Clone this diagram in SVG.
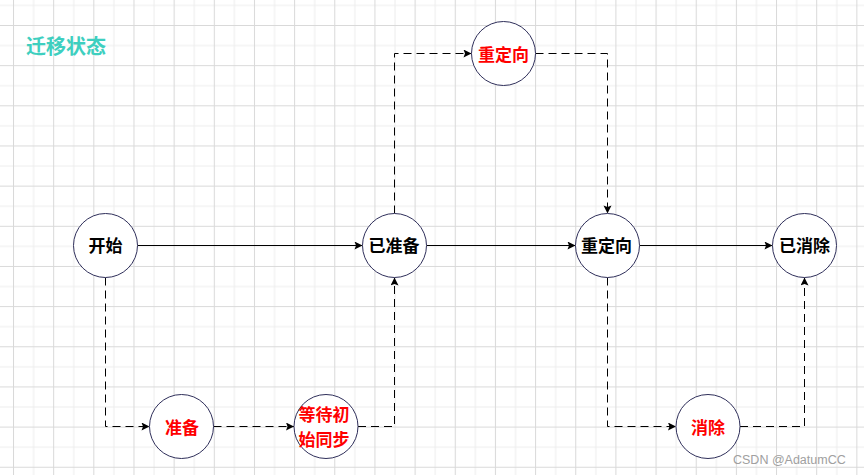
<svg xmlns="http://www.w3.org/2000/svg" width="864" height="475" viewBox="0 0 864 475">
  <style>
    .node circle { fill: #ffffff; stroke: #2f2f5a; stroke-width: 1; }
    .lbl { font-family: "Noto Sans CJK SC", "Noto Sans", sans-serif; font-size: 17px; font-weight: bold; text-anchor: middle; }
    .blk { fill: #000000; }
    .red { fill: #ff0000; }
    .solid { fill: none; stroke: #000000; stroke-width: 1; marker-end: url(#arrow); }
    .dash { fill: none; stroke: #000000; stroke-width: 1; stroke-dasharray: 8 5; marker-end: url(#arrow); }
  </style>
  <defs>
    <pattern id="grid" patternUnits="userSpaceOnUse" x="13" y="25" width="40.16" height="40.16">
      <rect x="0" y="0" width="40.16" height="40.16" fill="#ffffff"/>
      <line x1="20.58" y1="0" x2="20.58" y2="40.16" stroke="#ededed" stroke-width="1"/>
      <line x1="0" y1="20.58" x2="40.16" y2="20.58" stroke="#ededed" stroke-width="1"/>
      <line x1="0.5" y1="0" x2="0.5" y2="40.16" stroke="#d9d9d9" stroke-width="1"/>
      <line x1="0" y1="0.5" x2="40.16" y2="0.5" stroke="#d9d9d9" stroke-width="1"/>
    </pattern>
    <marker id="arrow" markerUnits="userSpaceOnUse" markerWidth="10" markerHeight="10" refX="9" refY="4" orient="auto">
      <path d="M1,0 L9,4 L1,8 L2.5,4 Z" fill="#000000"/>
    </marker>
  </defs>
  <rect x="0" y="0" width="864" height="475" fill="url(#grid)"/>

  <text x="26" y="54" font-family="Noto Sans CJK SC, sans-serif" font-size="20" font-weight="bold" fill="#3ecfbf">迁移状态</text>

  <g id="connectors">
    <path class="solid" d="M137.5,245.5 H362.5"/>
    <path class="solid" d="M426.5,245.5 H575.5"/>
    <path class="solid" d="M639.5,245.5 H772.5"/>
    <path class="dash" d="M105.5,277.5 V426.5 H149.5"/>
    <path class="dash" d="M213.5,426.5 H294"/>
    <path class="dash" d="M358,426.5 H394.5 V277.5"/>
    <path class="dash" d="M394.5,213.5 V53.5 H471.5"/>
    <path class="dash" d="M535.5,53.5 H607.5 V213.5"/>
    <path class="dash" d="M607.5,277.5 V426.5 H676"/>
    <path class="dash" d="M740,426.5 H804.5 V277.5"/>
  </g>

  <g id="n-start" class="node">
    <circle cx="105.5" cy="245.5" r="32"/>
    <text class="lbl blk" x="105.5" y="252">开始</text>
  </g>
  <g id="n-ready" class="node">
    <circle cx="394.5" cy="245.5" r="32"/>
    <text class="lbl blk" x="394" y="252">已准备</text>
  </g>
  <g id="n-redirect" class="node">
    <circle cx="607.5" cy="245.5" r="32"/>
    <text class="lbl blk" x="606.5" y="252">重定向</text>
  </g>
  <g id="n-removed" class="node">
    <circle cx="804.5" cy="245.5" r="32"/>
    <text class="lbl blk" x="804.5" y="252">已消除</text>
  </g>
  <g id="n-redirect-top" class="node">
    <circle cx="503.5" cy="53.5" r="32"/>
    <text class="lbl red" x="503.5" y="60.5">重定向</text>
  </g>
  <g id="n-prepare" class="node">
    <circle cx="181.5" cy="426.5" r="32"/>
    <text class="lbl red" x="182" y="433.5">准备</text>
  </g>
  <g id="n-wait" class="node">
    <circle cx="326" cy="426.5" r="32"/>
    <text class="lbl red" x="324" y="421">等待初</text>
    <text class="lbl red" x="324" y="445.5">始同步</text>
  </g>
  <g id="n-remove" class="node">
    <circle cx="708" cy="426.5" r="32"/>
    <text class="lbl red" x="708" y="433.5">消除</text>
  </g>

  <text x="733" y="464" font-family="Liberation Sans, Arial, sans-serif" font-size="12.5" fill="#a0a0a0">CSDN @AdatumCC</text>
</svg>
